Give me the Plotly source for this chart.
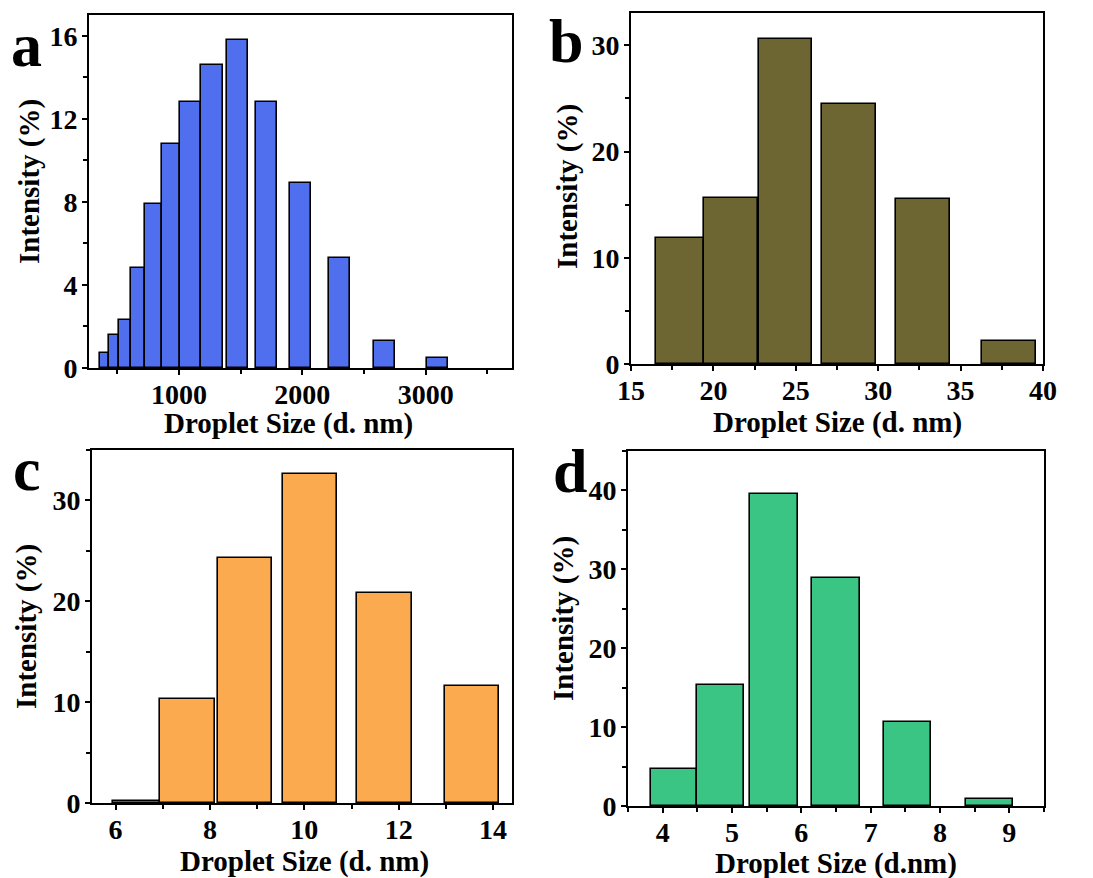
import plotly.graph_objects as go

# ---- size distribution data (bin edges in nm, intensity in %) ----
a_left = [362, 429, 515, 612, 725, 860, 1008, 1180, 1388, 1622, 1899, 2214, 2583, 3008]
a_right = [429, 515, 612, 725, 860, 1008, 1180, 1358, 1560, 1797, 2071, 2386, 2755, 3178]
a_int = [0.7, 1.6, 2.3, 4.8, 7.9, 10.8, 12.8, 14.6, 15.8, 12.8, 8.9, 5.3, 1.3, 0.5]

b_left = [16.52, 19.40, 22.74, 26.59, 31.09, 36.28]
b_right = [19.40, 22.68, 25.98, 29.87, 34.35, 39.56]
b_int = [11.9, 15.6, 30.6, 24.5, 15.5, 2.2]

c_left = [5.94, 6.95, 8.16, 9.54, 11.12, 12.99]
c_right = [6.95, 8.10, 9.31, 10.69, 12.28, 14.12]
c_int = [0.2, 10.3, 24.3, 32.6, 20.8, 11.6]

d_left = [3.83, 4.50, 5.26, 6.15, 7.19, 8.38]
d_right = [4.50, 5.18, 5.95, 6.84, 7.87, 9.06]
d_int = [4.7, 15.4, 39.6, 28.9, 10.6, 0.9]

panels = [
    dict(letter="a", left=a_left, right=a_right, y=a_int, color="#4F6FEE",
         xrange=[270, 3700], xdtick=1000, xminor=500, x0=0,
         yrange=[0, 17], ydtick=4, yminor=2, xtitle="Droplet Size (d. nm)",
         dom_x=[89, 512], dom_y=[15, 368],
         letter_xy=(26, 45), xtitle_xy=(288, 424), ytitle_xy=(29, 182)),
    dict(letter="b", left=b_left, right=b_right, y=b_int, color="#6D6532",
         xrange=[15, 40], xdtick=5, xminor=2.5, x0=15,
         yrange=[0, 33.05], ydtick=10, yminor=5, xtitle="Droplet Size (d. nm)",
         dom_x=[631, 1043], dom_y=[13, 364],
         letter_xy=(566, 41), xtitle_xy=(837, 422), ytitle_xy=(567, 187)),
    dict(letter="c", left=c_left, right=c_right, y=c_int, color="#FBAA50",
         xrange=[5.5, 14.4], xdtick=2, xminor=1, x0=0,
         yrange=[0, 35], ydtick=10, yminor=5, xtitle="Droplet Size (d. nm)",
         dom_x=[92, 512], dom_y=[450, 803],
         letter_xy=(27, 469), xtitle_xy=(304, 861), ytitle_xy=(26, 627)),
    dict(letter="d", left=d_left, right=d_right, y=d_int, color="#3AC585",
         xrange=[3.5, 9.5], xdtick=1, xminor=0.5, x0=0,
         yrange=[0, 45], ydtick=10, yminor=5, xtitle="Droplet Size (d.nm)",
         dom_x=[628, 1044], dom_y=[451, 806],
         letter_xy=(570, 471), xtitle_xy=(836, 863), ytitle_xy=(563, 619)),
]

W, H = 1093, 878
FONT = "Liberation Serif, Times New Roman, serif"
TITLE_FONT = dict(family=FONT, size=29, weight="bold", color="black")

fig = go.Figure()
layout = dict(
    width=W, height=H, autosize=False,
    margin=dict(l=0, r=0, t=0, b=0),
    paper_bgcolor="white", plot_bgcolor="white",
    showlegend=False, bargap=0,
    font=dict(family=FONT, color="black"),
)
annotations = []


def px_to_paper(px, py):
    return px / W, 1 - py / H


for i, p in enumerate(panels):
    n = "" if i == 0 else str(i + 1)
    xa, ya = "x" + n, "y" + n
    centers = [(l + r) / 2 for l, r in zip(p["left"], p["right"])]
    widths = [r - l for l, r in zip(p["left"], p["right"])]
    fig.add_trace(go.Bar(
        x=centers, y=p["y"], width=widths,
        marker=dict(color=p["color"], line=dict(color="black", width=1.6)),
        xaxis=xa, yaxis=ya,
    ))
    dx = [p["dom_x"][0] / W, p["dom_x"][1] / W]
    dy = [1 - p["dom_y"][1] / H, 1 - p["dom_y"][0] / H]
    common = dict(
        showline=True, linecolor="black", linewidth=2, mirror=True,
        ticks="outside", ticklen=5, tickwidth=2, tickcolor="black",
        showgrid=False, zeroline=False, automargin=False,
        tickfont=dict(family=FONT, size=28, weight="bold", color="black"),
    )
    layout["xaxis" + n] = dict(
        common, domain=dx, range=p["xrange"], anchor=ya,
        tick0=p["x0"], dtick=p["xdtick"], ticklabelstandoff=-5,
        minor=dict(ticks="outside", ticklen=4, tickwidth=2, tickcolor="black",
                   dtick=p["xminor"], tick0=p["x0"]),
    )
    layout["yaxis" + n] = dict(
        common, domain=dy, range=p["yrange"], anchor=xa,
        tick0=0, dtick=p["ydtick"], ticklabelstandoff=-1,
        minor=dict(ticks="outside", ticklen=4, tickwidth=2, tickcolor="black",
                   dtick=p["yminor"], tick0=0),
    )

    # axis titles
    tx, ty = px_to_paper(*p["xtitle_xy"])
    annotations.append(dict(
        text=p["xtitle"], x=tx, y=ty, xref="paper", yref="paper",
        xanchor="center", yanchor="middle", showarrow=False, font=TITLE_FONT,
    ))
    tx, ty = px_to_paper(*p["ytitle_xy"])
    annotations.append(dict(
        text="Intensity (%)", x=tx, y=ty, xref="paper", yref="paper",
        xanchor="center", yanchor="middle", showarrow=False, textangle=-90,
        font=TITLE_FONT,
    ))
    # panel letter
    lx, ly = px_to_paper(*p["letter_xy"])
    annotations.append(dict(
        text=p["letter"], x=lx, y=ly, xref="paper", yref="paper",
        xanchor="center", yanchor="middle", showarrow=False,
        font=dict(family=FONT, size=62, weight="bold", color="black"),
    ))

layout["annotations"] = annotations
fig.update_layout(**layout)
fig.write_html("out.html")
